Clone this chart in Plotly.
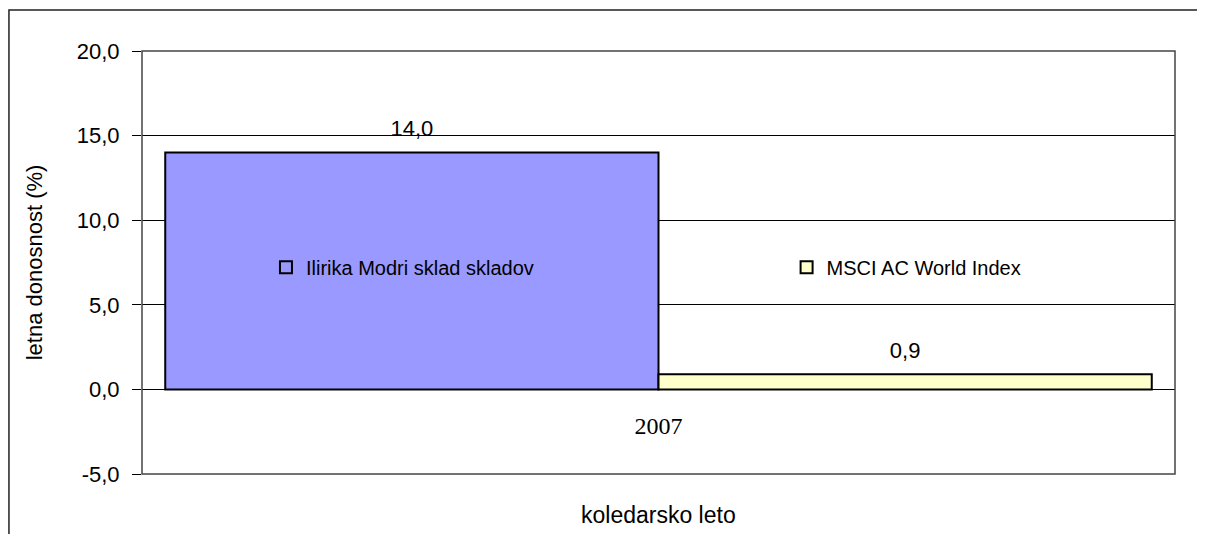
import plotly.graph_objects as go

categories = ["2007"]
series_names = ["Ilirika Modri sklad skladov", "MSCI AC World Index"]
series_values = [[14.0], [0.9]]
series_colors = ["#9999FF", "#FFFFCC"]
y_ticks = [-5, 0, 5, 10, 15, 20]


def fmt(v):
    return f"{v:.1f}".replace(".", ",")


FS = 22
legend_ids = ["legend", "legend2"]
fig = go.Figure()
for i, (name, vals, col) in enumerate(zip(series_names, series_values, series_colors)):
    fig.add_trace(go.Bar(
        x=categories, y=vals, name=name, legend=legend_ids[i],
        offsetgroup=str(i),
        marker=dict(color=col, line=dict(color="black", width=2)),
        hoverinfo="skip",
    ))
for i, vals in enumerate(series_values):
    fig.add_trace(go.Scatter(
        x=categories, y=vals, mode="markers+text", showlegend=False,
        offsetgroup=str(i),
        marker=dict(size=16, color="rgba(0,0,0,0)"),
        text=[fmt(v) for v in vals], textposition="top center",
        textfont=dict(family="Liberation Sans, Arial", size=FS, color="black"),
        cliponaxis=False, hoverinfo="skip",
    ))

leg_common = dict(orientation="h", y=0.489, xanchor="left", yanchor="middle",
                  bgcolor="rgba(0,0,0,0)", font=dict(size=20), itemclick=False)

fig.update_layout(
    width=1197, height=526,
    margin=dict(l=134, r=30, t=43, b=60),
    paper_bgcolor="white", plot_bgcolor="white",
    barmode="group", bargap=0.045, bargroupgap=0,
    scattermode="group", scattergap=0.045,
    font=dict(family="Liberation Sans, Arial", size=FS, color="black"),
    showlegend=True,
    legend=dict(x=0.12, **leg_common),
    legend2=dict(x=0.624, **leg_common),
    xaxis=dict(anchor="free", position=0.2, showline=False, ticks="",
               showgrid=False, zeroline=False,
               tickfont=dict(family="Liberation Serif, Times New Roman", size=24),
               ticklabelstandoff=20),
    yaxis=dict(range=[-5, 20], tickvals=y_ticks, ticktext=[fmt(v) for v in y_ticks],
               showgrid=True, gridcolor="black", gridwidth=1,
               zeroline=True, zerolinecolor="black", zerolinewidth=1,
               showline=False, ticks="outside", ticklen=9, tickcolor="black",
               ticklabelstandoff=8,
               title=dict(text="letna donosnost (%)", standoff=28,
                          font=dict(size=FS))),
)

# plot area frame
fig.add_shape(type="rect", xref="x domain", yref="y domain", x0=0, x1=1, y0=0, y1=1,
              line=dict(color="#444444", width=1.5), layer="above")
# outer chart border
fig.add_shape(type="rect", xref="paper", yref="paper", x0=-0.1288, x1=1.2, y0=-0.5, y1=1.0969,
              line=dict(color="#222222", width=1.5), layer="above")
# x axis title
fig.add_annotation(text="koledarsko leto", xref="paper", yref="paper", x=0.5, y=-0.097,
                   yanchor="middle", showarrow=False, font=dict(size=23))

fig.write_html("out.html")
